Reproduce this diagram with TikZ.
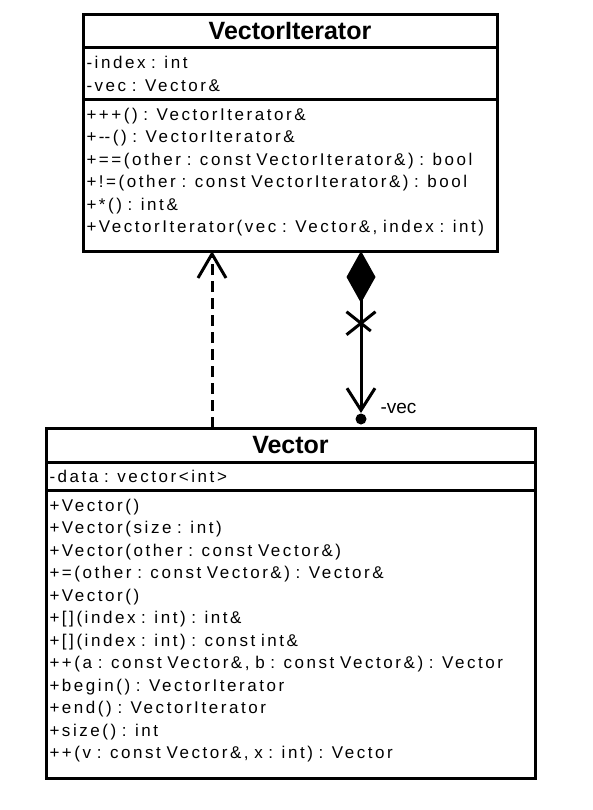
\documentclass[tikz,border=0pt]{standalone}
\usepackage{fontspec}
\setmainfont{Liberation Sans}
\newfontfamily\umlfont[LetterSpace=15, WordSpace=2.1]{Liberation Sans}
\usetikzlibrary{positioning,arrows.meta,shapes.misc}

\newcommand{\opsgap}{\rule[-10pt]{0pt}{10pt}}

\tikzset{
  umlbox/.style={draw, line width=3pt, outer sep=0pt, inner xsep=3.5pt, inner ysep=2pt,
    align=left, font=\umlfont\fontsize{17}{22.5}\selectfont},
  umltitle/.style={umlbox, align=center, font=\bfseries\fontsize{25}{30}\selectfont},
  depend/.style={line width=3pt, dash pattern=on 11pt off 6pt,
    -{Straight Barb[length=24pt,width=28pt]}},
  compose/.style={line width=3pt,
    {Diamond[length=52pt,width=29pt]}-{Straight Barb[length=22pt,width=28pt]}},
}

\begin{document}
\begin{tikzpicture}[x=1pt,y=1pt]
  \useasboundingbox (0,0) rectangle (593,-810);

  \node (VIt) [umltitle, text width=407pt, minimum height=33pt, anchor=north west] at (83,-15) {VectorIterator};
  \node (VItAttr) [umlbox, text width=407pt, minimum height=52pt, below=0pt of VIt]
    {-index : int\\-vec : Vector\&};
  \node (VItOps) [umlbox, text width=407pt, minimum height=151pt, below=0pt of VItAttr]
    {+++() : VectorIterator\&\\
     +-\kern0pt-() : VectorIterator\&\\
     +==(other : const VectorIterator\&) : bool\\
     +!=(other : const VectorIterator\&) : bool\\
     +*() : int\&\\
     +VectorIterator(vec : Vector\&, index : int)\opsgap};

  \node (Vec) [umltitle, text width=482pt, minimum height=34pt, anchor=north west] at (46,-428) {Vector};
  \node (VecAttr) [umlbox, text width=482pt, minimum height=28pt, below=0pt of Vec]
    {-data : vector<int>};
  \node (VecOps) [umlbox, text width=482pt, minimum height=288pt, below=0pt of VecAttr]
    {+Vector()\\
     +Vector(size : int)\\
     +Vector(other : const Vector\&)\\
     +=(other : const Vector\&) : Vector\&\\
     +Vector()\\
     +[](index : int) : int\&\\
     +[](index : int) : const int\&\\
     ++(a : const Vector\&, b : const Vector\&) : Vector\\
     +begin() : VectorIterator\\
     +end() : VectorIterator\\
     +size() : int\\
     ++(v : const Vector\&, x : int) : Vector\opsgap};

  \coordinate (depx) at (212,0);
  \coordinate (compx) at (361,0);
  \path (Vec.north -| compx) ++(0,9) coordinate (vecend);

  \draw[depend] (Vec.north -| depx) -- (VItOps.south -| depx);
  \draw[compose, shorten >=6pt] (VItOps.south -| compx) -- node (cross) [pos=0.43, cross out, draw,
    minimum width=26pt, minimum height=20pt, inner sep=0pt] {} (vecend);
  \fill (vecend) circle (5.5pt);
  \node (veclabel) [anchor=base west, font=\fontsize{19}{22}\selectfont] at ([shift={(16,6)}]vecend) {-vec};
\end{tikzpicture}
\end{document}
